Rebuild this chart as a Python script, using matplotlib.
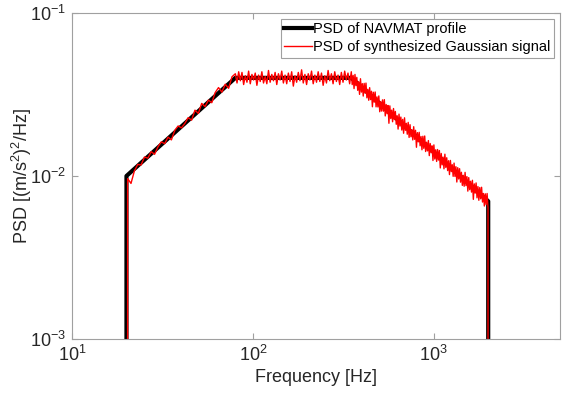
import numpy as np
import matplotlib
matplotlib.use("Agg")
import matplotlib.pyplot as plt

plt.rcParams["font.family"] = ["Liberation Sans", "DejaVu Sans"]
plt.rcParams["mathtext.default"] = "regular"

# NAVMAT profile breakpoints (Hz, (m/s^2)^2/Hz)
navmat_f = [20, 20, 80, 350, 2000, 2000]
navmat_psd = [1e-5, 0.01, 0.04, 0.04, 0.007, 1e-5]

# synthesized signal: deviation from the profile in percent
rise_dev = [-5, -15, -3, 2, -3, 4, -2, 3, -5, 1, 4, -3, 2, -6, 3, 5, -2, 0,
            4, -4, 6, -3, 7, -2, 3, -5, 5, 8, -3, 4, -6, 6]
flat_dev = [6, -7, 9, -4, 8, -9, 3, -6, 10, -8, 5, -3, 7, -10, 4, -5, 9, -7,
            2, -8, 11, -6, 5, -4, 8, -9, 6, -3, 10, -7, 4, -8, 7, -5, 9, -11,
            3, -6, 8, -4, 12, -7, 5, -9, 6, -3, 10, -8, 4, -6, 9, -5, 7, -10,
            3, -7, 11, -4, 6, -8, 9, -5, 4, -9, 8, -6, 10, -3, 7, -8]
fall_dev = [9, -8, 6, -11, 10, -5, 8, -9, 4, -12, 11, -7, 6, -10, 9, -4, 12, -8, 5, -9,
            10, -6, 7, -13, 8, -5, 11, -9, 6, -7, 10, -11, 4, -8, 9, -6, 12, -10, 7, -5,
            8, -15, 10, -7, 6, -9, 11, -4, 9, -8, 5, -12, 10, -6, 8, -9, 7, -11, 12, -5,
            6, -8, 10, -10, 9, -7, 4, -9, 11, -6, 8, -14, 7, -5, 10, -8, 6, -11, 9, -7,
            12, -9, 5, -6, 10, -10, 8, -4, 7, -12, 11, -8, 6, -9, 9, -5, 10, -13, 8, -7,
            5, -10, 12, -6, 9, -8, 7, -11, 10, -5, 6, -9, 11, -7, 8, -12, 9, -6, 10, -8,
            7, -10, 5, -9, 12, -6, 8, -11, 9, -7, 6, -8, 10, -15, 7, -5, 11, -9, 8, -10,
            9, -6, 12, -8, 5, -11, 7, -7, 10, -9]
sig_f_start, sig_f_end = 20.3, 1995

# frequency grid of the synthesized PSD
f_rise = np.geomspace(sig_f_start, 80, len(rise_dev), endpoint=False)
f_flat = np.geomspace(80, 350, len(flat_dev), endpoint=False)
f_fall = np.geomspace(350, sig_f_end, len(fall_dev))
f_sig = np.concatenate([f_rise, f_flat, f_fall])
dev = np.array(rise_dev + flat_dev + fall_dev) / 100.0

# profile level at each frequency (log-log between breakpoints)
bp_f = np.log10(navmat_f[1:-1])
bp_p = np.log10(navmat_psd[1:-1])
base = 10 ** np.interp(np.log10(f_sig), bp_f, bp_p)
psd_sig = base * (1 + dev)

sig_x = np.concatenate([[sig_f_start], f_sig, [sig_f_end]])
sig_y = np.concatenate([[1e-5], psd_sig, [1e-5]])

fig = plt.figure(figsize=(5.67, 4.0), dpi=100)
ax = fig.add_axes([0.127, 0.1525, 0.861, 0.815])

ax.loglog(navmat_f, navmat_psd, color="black", lw=3, label="PSD of NAVMAT profile")
ax.loglog(sig_x, sig_y, color="red", lw=1.0, label="PSD of synthesized Gaussian signal")

ax.set_xlim(10, 5000)
ax.set_ylim(1e-3, 1e-1)
ax.set_xticks([10, 100, 1000])
ax.set_yticks([1e-3, 1e-2, 1e-1])
ax.minorticks_off()

grey = "#a0a0a0"
for sp in ax.spines.values():
    sp.set_color(grey)
    sp.set_linewidth(0.8)
ax.tick_params(which="both", direction="in", top=True, right=True,
               color=grey, length=4, labelsize=13, labelcolor="#262626", pad=4)

ax.set_xlabel("Frequency [Hz]", fontsize=13, color="#262626", labelpad=3)
ax.set_ylabel("PSD [(m/s$^{2}$)$^{2}$/Hz]", fontsize=13, color="#262626")
ax.yaxis.set_label_coords(-0.078, 0.5)

leg = ax.legend(loc="upper right", fontsize=10.5, fancybox=False, framealpha=1,
                edgecolor=grey, borderaxespad=0.4, borderpad=0.25,
                handlelength=1.9, handletextpad=0.1, labelspacing=0.25)
leg.get_frame().set_linewidth(0.8)

fig.savefig("out.png", dpi=100)
